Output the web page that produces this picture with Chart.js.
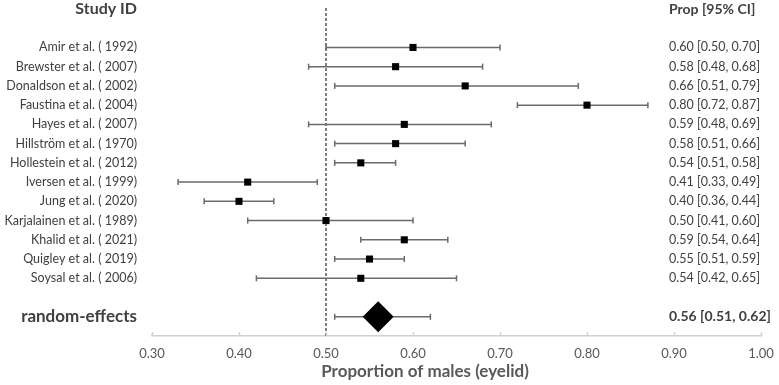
<!DOCTYPE html>
<html>
<head>
<meta charset="utf-8">
<script src="https://cdn.jsdelivr.net/npm/chart.js@4/dist/chart.umd.min.js"></script>
<style>
  html, body { margin: 0; padding: 0; background: #ffffff; }
  #wrap { width: 779px; height: 385px; position: relative; }
</style>
</head>
<body>
<div id="wrap"><canvas id="c" width="779" height="385"></canvas></div>
<script>
// ---- data ----
const studies = [
  'Amir et al. ( 1992)', 'Brewster et al. ( 2007)', 'Donaldson et al. ( 2002)',
  'Faustina et al. ( 2004)', 'Hayes et al. ( 2007)', 'Hillström et al. ( 1970)',
  'Hollestein et al. ( 2012)', 'Iversen et al. ( 1999)', 'Jung et al. ( 2020)',
  'Karjalainen et al. ( 1989)', 'Khalid et al. ( 2021)', 'Quigley et al. ( 2019)',
  'Soysal et al. ( 2006)'
];
const props = [0.60, 0.58, 0.66, 0.80, 0.59, 0.58, 0.54, 0.41, 0.40, 0.50, 0.59, 0.55, 0.54];
const lower = [0.50, 0.48, 0.51, 0.72, 0.48, 0.51, 0.51, 0.33, 0.36, 0.41, 0.54, 0.51, 0.42];
const upper = [0.70, 0.68, 0.79, 0.87, 0.69, 0.66, 0.58, 0.49, 0.44, 0.60, 0.64, 0.59, 0.65];
const pooledLabel = ['random-effects'];
const pooledProp = [0.56];
const pooledLower = [0.51];
const pooledUpper = [0.62];
const xTickValues = [0.30, 0.40, 0.50, 0.60, 0.70, 0.80, 0.90, 1.00];
const nullValue = [0.50];
const headerLeft = 'Study ID';
const headerRight = 'Prop [95% CI]';
const xTitle = 'Proportion of males (eyelid)';

// ---- row positions ----
const HEADER_ROW = -1;
const studyRows = studies.map((_, i) => i + 1);
const pooledRow = studies.length + 2;
const rowLabel = {};
rowLabel[HEADER_ROW] = headerLeft;
studyRows.forEach((r, i) => rowLabel[r] = studies[i]);
rowLabel[pooledRow] = pooledLabel[0];

const fmt = v => v.toFixed(2);

const errData = [];
studyRows.forEach((r, i) => {
  errData.push({x: lower[i], y: r}, {x: upper[i], y: r}, {x: null, y: null});
});
errData.push({x: pooledLower[0], y: pooledRow}, {x: pooledUpper[0], y: pooledRow});

const pointData = studyRows.map((r, i) => ({x: props[i], y: r}));
const pooledData = [{x: pooledProp[0], y: pooledRow}];

const FONT = 'Lato, "Open Sans", sans-serif';
Chart.defaults.font.family = FONT;

const annotatePlugin = {
  id: 'annotate',
  afterDraw(chart) {
    const {ctx, chartArea, scales} = chart;
    const xs = scales.x, ys = scales.y;
    ctx.save();
    // tick marks pointing up from the axis line
    ctx.strokeStyle = '#d0d0d0';
    ctx.lineWidth = 1.5;
    xs.ticks.forEach(t => {
      const px = Math.round(xs.getPixelForValue(t.value)) + 0.5;
      ctx.beginPath();
      ctx.moveTo(px, chartArea.bottom);
      ctx.lineTo(px, chartArea.bottom - 4);
      ctx.stroke();
    });
    // right-hand text column
    const tx = chartArea.right - 92;
    ctx.textAlign = 'left';
    ctx.textBaseline = 'middle';
    ctx.fillStyle = '#404040';
    ctx.font = 'bold 14px ' + FONT;
    ctx.fillText(headerRight, tx, ys.getPixelForValue(HEADER_ROW) + 1);
    ctx.font = '12.5px ' + FONT;
    studyRows.forEach((r, i) => {
      ctx.fillText(fmt(props[i]) + ' [' + fmt(lower[i]) + ', ' + fmt(upper[i]) + ']', tx, ys.getPixelForValue(r));
    });
    ctx.font = 'bold 14px ' + FONT;
    ctx.fillText(fmt(pooledProp[0]) + ' [' + fmt(pooledLower[0]) + ', ' + fmt(pooledUpper[0]) + ']', tx, ys.getPixelForValue(pooledRow));
    // x-axis title
    ctx.textAlign = 'center';
    ctx.fillStyle = '#595959';
    ctx.font = 'bold 17px ' + FONT;
    ctx.fillText(xTitle, chartArea.left + 273, 372);
    ctx.restore();
  }
};

new Chart(document.getElementById('c'), {
  type: 'scatter',
  data: {
    datasets: [
      {
        label: 'null line',
        data: [{x: nullValue[0], y: -1.05}, {x: nullValue[0], y: pooledRow + 1}],
        showLine: true,
        borderColor: '#000000',
        borderWidth: 1,
        borderDash: [3, 2],
        pointRadius: 0,
        order: 3
      },
      {
        label: 'CI',
        data: errData,
        showLine: true,
        spanGaps: false,
        borderColor: '#6a6a6a',
        borderWidth: 1.5,
        pointStyle: 'line',
        rotation: 90,
        pointRadius: 3,
        pointBorderColor: '#6a6a6a',
        pointBorderWidth: 1.5,
        order: 2
      },
      {
        label: 'studies',
        data: pointData,
        pointStyle: 'rect',
        pointRadius: 5,
        backgroundColor: '#000000',
        borderColor: '#000000',
        borderWidth: 0,
        order: 1
      },
      {
        label: 'pooled',
        data: pooledData,
        pointStyle: 'rectRot',
        pointRadius: 15.5,
        backgroundColor: '#000000',
        borderColor: '#000000',
        borderWidth: 0,
        order: 0
      }
    ]
  },
  options: {
    responsive: false,
    animation: false,
    events: [],
    layout: { autoPadding: false, padding: { top: 8, right: 18, bottom: 0, left: 0 } },
    plugins: { legend: { display: false }, tooltip: { enabled: false }, title: { display: false } },
    scales: {
      x: {
        type: 'linear',
        min: 0.3,
        max: 1.0,
        afterBuildTicks: s => { s.ticks = xTickValues.map(v => ({value: v})); },
        afterFit: s => { s.height = 49; s.paddingLeft = 0; s.paddingRight = 0; },
        grid: { display: false, drawTicks: false },
        border: { display: true, color: '#d0d0d0', width: 1.5 },
        ticks: {
          padding: 10,
          color: '#595959',
          font: { size: 13 },
          maxRotation: 0,
          callback: v => Number(v).toFixed(2)
        }
      },
      y: {
        type: 'linear',
        reverse: true,
        min: -1.05,
        max: pooledRow + 1,
        afterBuildTicks: s => { s.ticks = Object.keys(rowLabel).map(Number).sort((a, b) => a - b).map(v => ({value: v})); },
        afterFit: s => { s.width = 152; s.paddingTop = 0; s.paddingBottom = 0; },
        grid: { display: false, drawTicks: false },
        border: { display: false },
        ticks: {
          padding: 15,
          autoSkip: false,
          color: '#404040',
          font: c => (c.tick && (c.tick.value === HEADER_ROW || c.tick.value === pooledRow))
            ? { size: (c.tick.value === HEADER_ROW ? 16 : 17), weight: 'bold' } : { size: 12.5 },
          callback: v => rowLabel[v] || ''
        }
      }
    }
  },
  plugins: [annotatePlugin]
});
</script>
</body>
</html>
